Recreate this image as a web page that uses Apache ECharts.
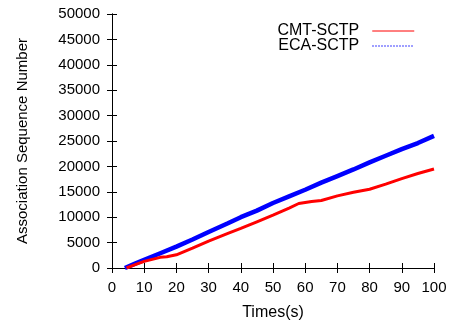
<!DOCTYPE html>
<html><head><meta charset="utf-8">
<script src="https://cdn.jsdelivr.net/npm/echarts@6/dist/echarts.min.js"></script>
<style>html,body{margin:0;padding:0;background:#fff}#c{width:454px;height:325px}</style>
</head><body><div id="c"></div>
<script>
const xTicks = [0,10,20,30,40,50,60,70,80,90,100];
const yTicks = [0,5000,10000,15000,20000,25000,30000,35000,40000,45000,50000];
const cmtTimes = [4.5,7,10,15,17,20,25,30,36,40,45,50,55,58,62,65,70,75,80,85,90,95,100];
const cmtValues = [0,600,1300,2100,2200,2600,3900,5300,6800,7800,9100,10400,11800,12700,13100,13300,14200,14900,15500,16500,17600,18600,19500];
const ecaTimes = [4,7,10,15,20,25,30,36,40,45,50,55,60,65,70,75,80,85,90,95,100];
const ecaValues = [0,800,1600,2900,4200,5600,7100,8800,10000,11300,12800,14100,15400,16800,18100,19400,20800,22100,23400,24600,26000];

const font = 'Liberation Sans, Arial, sans-serif';
const chart = echarts.init(document.getElementById('c'), null, {renderer:'canvas'});
const axLine = {show:true, lineStyle:{color:'#000', width:1}};
const tick = {show:true, inside:true, length:5, lineStyle:{color:'#000'}};
chart.setOption({
  animation:false,
  backgroundColor:'#fff',
  grid:{left:112, right:20, top:14, bottom:57, containLabel:false, outerBoundsMode:'none'},
  legend:{
    top:18, right:34, orient:'vertical', align:'right', itemGap:-1,
    itemWidth:42, itemHeight:14,
    textStyle:{fontFamily:font, fontSize:16, color:'#000', padding:[0,8,0,0]},
    data:[
      {name:'CMT-SCTP', itemStyle:{opacity:0}, lineStyle:{width:1, color:'#ff0000', type:'solid'}},
      {name:'ECA-SCTP', itemStyle:{opacity:0}, lineStyle:{width:1.5, color:'#5555ff', type:'dotted'}}
    ]
  },
  xAxis:[{
    type:'value', min:0, max:100, interval:10,
    name:'Times(s)', nameLocation:'middle', nameGap:37,
    nameTextStyle:{fontFamily:font, fontSize:16, color:'#000'},
    axisLine:axLine, axisTick:tick, splitLine:{show:false},
    axisLabel:{fontFamily:font, fontSize:15, color:'#000', margin:12, formatter:v=>String(v)}
  },{
    type:'value', min:0, max:100, interval:10, position:'top',
    axisLine:axLine, axisTick:tick, splitLine:{show:false}, axisLabel:{show:false}
  }],
  yAxis:[{
    type:'value', min:0, max:50000, interval:5000,
    name:'Association Sequence Number', nameLocation:'middle', nameGap:82, nameRotate:90,
    nameTextStyle:{fontFamily:font, fontSize:15, color:'#000'},
    axisLine:axLine, axisTick:tick, splitLine:{show:false},
    axisLabel:{fontFamily:font, fontSize:15, color:'#000', margin:12, formatter:v=>String(v)}
  },{
    type:'value', min:0, max:50000, interval:5000, position:'right',
    axisLine:axLine, axisTick:tick, splitLine:{show:false}, axisLabel:{show:false}
  }],
  series:[
    {name:'CMT-SCTP', type:'line', symbol:'none', z:3,
     data:cmtTimes.map((t,i)=>[t,cmtValues[i]]),
     lineStyle:{color:'#ff0000', width:3}, itemStyle:{color:'#ff0000'}},
    {name:'ECA-SCTP', type:'line', symbol:'none', z:2,
     data:ecaTimes.map((t,i)=>[t,ecaValues[i]]),
     lineStyle:{color:'#0000ff', width:4.5}, itemStyle:{color:'#0000ff'}}
  ]
});
</script></body></html>
